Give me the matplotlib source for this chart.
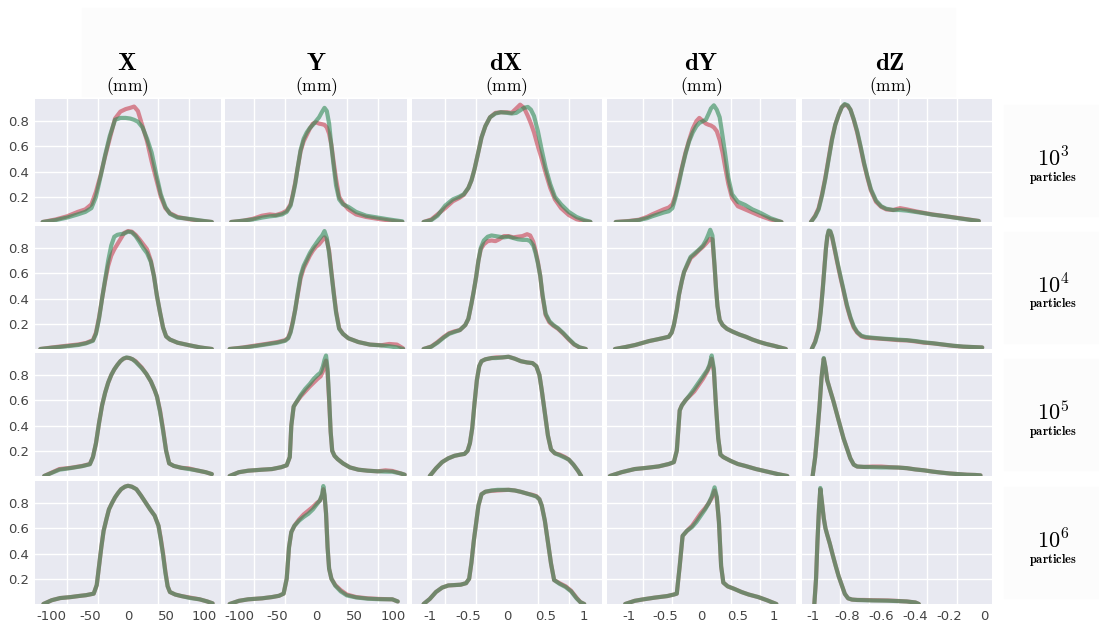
import numpy as np
import matplotlib.pyplot as plt
from matplotlib.patches import Rectangle

plt.rcParams['mathtext.fontset'] = 'cm'

# ---------------- density curves (red = reference, green = generated) ----------------
# row 1 : 10^3 particles
x_X_3 = [-112, -95, -80, -66, -56, -48, -42, -36, -30, -24, -17, -10, -3, 3, 8, 13, 19, 25, 31, 37, 43, 49, 55, 65, 80, 95, 110]
red_X_3 = [0.0, 0.02, 0.045, 0.08, 0.10, 0.14, 0.24, 0.37, 0.52, 0.66, 0.82, 0.875, 0.895, 0.905, 0.915, 0.88, 0.76, 0.64, 0.48, 0.34, 0.2, 0.11, 0.07, 0.04, 0.022, 0.01, 0.0]
green_X_3 = [0.0, 0.015, 0.035, 0.06, 0.08, 0.11, 0.20, 0.36, 0.53, 0.68, 0.81, 0.825, 0.825, 0.82, 0.81, 0.795, 0.75, 0.66, 0.55, 0.38, 0.22, 0.12, 0.065, 0.035, 0.025, 0.012, 0.0]

x_Y_3 = [-110, -95, -82, -70, -60, -52, -44, -38, -33, -30, -27, -24, -20, -16, -12, -8, -4, 0, 4, 8, 11, 14, 17, 20, 23, 26, 30, 35, 42, 52, 65, 80, 95, 112]
red_Y_3 = [0.0, 0.01, 0.025, 0.05, 0.06, 0.055, 0.07, 0.09, 0.14, 0.22, 0.31, 0.42, 0.56, 0.64, 0.69, 0.74, 0.78, 0.79, 0.78, 0.775, 0.77, 0.75, 0.70, 0.61, 0.47, 0.34, 0.2, 0.15, 0.1, 0.06, 0.04, 0.025, 0.012, 0.0]
green_Y_3 = [0.0, 0.01, 0.02, 0.035, 0.045, 0.05, 0.06, 0.08, 0.13, 0.21, 0.30, 0.42, 0.57, 0.66, 0.71, 0.745, 0.77, 0.80, 0.83, 0.875, 0.905, 0.88, 0.78, 0.60, 0.44, 0.29, 0.18, 0.14, 0.12, 0.08, 0.05, 0.035, 0.02, 0.005]

x_dX_3 = [-1.08, -0.98, -0.9, -0.8, -0.7, -0.62, -0.56, -0.5, -0.46, -0.42, -0.38, -0.33, -0.28, -0.22, -0.15, -0.08, 0.0, 0.06, 0.12, 0.17, 0.22, 0.27, 0.31, 0.35, 0.4, 0.45, 0.5, 0.56, 0.62, 0.7, 0.8, 0.9, 1.0, 1.08]
red_dX_3 = [0.0, 0.02, 0.06, 0.11, 0.165, 0.19, 0.215, 0.27, 0.33, 0.42, 0.53, 0.67, 0.76, 0.83, 0.865, 0.87, 0.87, 0.865, 0.9, 0.93, 0.905, 0.84, 0.78, 0.71, 0.60, 0.50, 0.39, 0.27, 0.18, 0.11, 0.055, 0.022, 0.008, 0.0]
green_dX_3 = [0.0, 0.015, 0.05, 0.13, 0.18, 0.2, 0.22, 0.27, 0.33, 0.42, 0.53, 0.67, 0.76, 0.83, 0.86, 0.87, 0.865, 0.86, 0.865, 0.885, 0.905, 0.912, 0.89, 0.84, 0.72, 0.57, 0.43, 0.3, 0.2, 0.14, 0.08, 0.04, 0.015, 0.002]

x_dY_3 = [-1.18, -1.0, -0.86, -0.75, -0.68, -0.6, -0.52, -0.45, -0.4, -0.36, -0.31, -0.27, -0.22, -0.17, -0.12, -0.07, -0.03, 0.02, 0.06, 0.1, 0.13, 0.17, 0.21, 0.25, 0.29, 0.33, 0.37, 0.42, 0.5, 0.6, 0.7, 0.8, 0.95, 1.1]
red_dY_3 = [0.0, 0.008, 0.018, 0.04, 0.06, 0.08, 0.1, 0.115, 0.14, 0.21, 0.33, 0.43, 0.55, 0.65, 0.74, 0.80, 0.825, 0.80, 0.78, 0.77, 0.765, 0.75, 0.72, 0.65, 0.55, 0.42, 0.30, 0.19, 0.125, 0.10, 0.075, 0.05, 0.02, 0.0]
green_dY_3 = [0.0, 0.006, 0.015, 0.03, 0.045, 0.06, 0.075, 0.085, 0.11, 0.19, 0.31, 0.42, 0.54, 0.64, 0.71, 0.76, 0.785, 0.80, 0.81, 0.86, 0.90, 0.925, 0.89, 0.83, 0.68, 0.52, 0.35, 0.22, 0.16, 0.135, 0.10, 0.075, 0.03, 0.0]

x_dZ_3 = [-1.01, -0.985, -0.965, -0.945, -0.926, -0.906, -0.887, -0.868, -0.848, -0.83, -0.813, -0.795, -0.779, -0.76, -0.74, -0.72, -0.7, -0.68, -0.66, -0.63, -0.6, -0.57, -0.53, -0.49, -0.45, -0.4, -0.35, -0.3, -0.22, -0.15, -0.08, -0.03]
red_dZ_3 = [0.0, 0.05, 0.11, 0.22, 0.35, 0.51, 0.66, 0.77, 0.85, 0.91, 0.93, 0.92, 0.89, 0.81, 0.71, 0.59, 0.46, 0.35, 0.25, 0.16, 0.12, 0.1, 0.095, 0.11, 0.1, 0.085, 0.072, 0.06, 0.045, 0.032, 0.018, 0.008]
green_dZ_3 = [0.0, 0.045, 0.10, 0.21, 0.34, 0.50, 0.65, 0.77, 0.85, 0.91, 0.935, 0.925, 0.89, 0.815, 0.72, 0.60, 0.47, 0.36, 0.26, 0.17, 0.125, 0.105, 0.095, 0.095, 0.09, 0.08, 0.07, 0.058, 0.045, 0.03, 0.017, 0.008]

# row 2 : 10^4 particles
x_X_4 = [-115, -100, -80, -65, -55, -46, -42, -38, -34, -30, -26, -22, -18, -14, -10, -5, 0, 5, 10, 15, 20, 25, 30, 34, 38, 42, 46, 50, 55, 65, 80, 95, 110]
red_X_4 = [0.0, 0.012, 0.026, 0.036, 0.048, 0.07, 0.13, 0.25, 0.40, 0.54, 0.66, 0.74, 0.79, 0.83, 0.87, 0.92, 0.935, 0.93, 0.905, 0.87, 0.83, 0.79, 0.70, 0.58, 0.42, 0.29, 0.17, 0.10, 0.075, 0.05, 0.03, 0.012, 0.0]
green_X_4 = [0.0, 0.01, 0.022, 0.032, 0.045, 0.065, 0.12, 0.24, 0.40, 0.55, 0.70, 0.82, 0.89, 0.905, 0.91, 0.915, 0.93, 0.925, 0.895, 0.85, 0.80, 0.76, 0.69, 0.58, 0.42, 0.29, 0.17, 0.10, 0.075, 0.05, 0.03, 0.012, 0.0]

x_Y_4 = [-112, -95, -80, -65, -50, -40, -36, -33, -30, -27, -24, -20, -16, -12, -8, -4, 0, 4, 8, 11, 14, 17, 20, 23, 26, 30, 35, 42, 55, 70, 85, 95, 105, 113]
red_Y_4 = [0.0, 0.012, 0.026, 0.04, 0.055, 0.07, 0.09, 0.14, 0.22, 0.31, 0.42, 0.56, 0.64, 0.69, 0.74, 0.78, 0.81, 0.83, 0.86, 0.885, 0.86, 0.78, 0.61, 0.45, 0.30, 0.165, 0.12, 0.085, 0.055, 0.035, 0.03, 0.04, 0.035, 0.005]
green_Y_4 = [0.0, 0.01, 0.022, 0.036, 0.05, 0.065, 0.085, 0.13, 0.21, 0.31, 0.43, 0.58, 0.66, 0.71, 0.76, 0.80, 0.835, 0.87, 0.90, 0.935, 0.88, 0.76, 0.60, 0.44, 0.29, 0.16, 0.12, 0.085, 0.055, 0.035, 0.028, 0.022, 0.012, 0.0]

x_dX_4 = [-1.08, -0.98, -0.9, -0.82, -0.75, -0.68, -0.61, -0.54, -0.5, -0.46, -0.43, -0.4, -0.37, -0.34, -0.3, -0.25, -0.2, -0.15, -0.1, -0.04, 0.02, 0.08, 0.14, 0.2, 0.26, 0.3, 0.34, 0.37, 0.4, 0.43, 0.46, 0.5, 0.55, 0.6, 0.66, 0.73, 0.8, 0.87, 0.94, 1.02]
red_dX_4 = [0.0, 0.02, 0.055, 0.095, 0.125, 0.14, 0.15, 0.19, 0.24, 0.36, 0.46, 0.57, 0.70, 0.79, 0.83, 0.855, 0.86, 0.855, 0.87, 0.895, 0.895, 0.885, 0.89, 0.895, 0.91, 0.9, 0.85, 0.78, 0.69, 0.58, 0.42, 0.27, 0.21, 0.185, 0.16, 0.12, 0.075, 0.035, 0.012, 0.0]
green_dX_4 = [0.0, 0.018, 0.05, 0.09, 0.12, 0.135, 0.15, 0.19, 0.24, 0.36, 0.46, 0.57, 0.70, 0.80, 0.86, 0.89, 0.9, 0.895, 0.89, 0.885, 0.89, 0.88, 0.87, 0.865, 0.865, 0.855, 0.82, 0.76, 0.68, 0.58, 0.43, 0.28, 0.22, 0.19, 0.165, 0.125, 0.08, 0.038, 0.013, 0.0]

x_dY_4 = [-1.19, -1.05, -0.91, -0.8, -0.72, -0.62, -0.54, -0.45, -0.41, -0.38, -0.34, -0.31, -0.27, -0.24, -0.19, -0.15, -0.09, -0.03, 0.02, 0.06, 0.09, 0.12, 0.15, 0.18, 0.2, 0.22, 0.25, 0.29, 0.35, 0.43, 0.52, 0.61, 0.7, 0.8, 0.89, 1.0, 1.16]
red_dY_4 = [0.0, 0.015, 0.032, 0.05, 0.063, 0.075, 0.085, 0.097, 0.13, 0.19, 0.31, 0.43, 0.54, 0.61, 0.67, 0.72, 0.75, 0.785, 0.81, 0.835, 0.855, 0.875, 0.87, 0.65, 0.48, 0.34, 0.23, 0.19, 0.16, 0.137, 0.115, 0.097, 0.075, 0.055, 0.04, 0.025, 0.0]
green_dY_4 = [0.0, 0.015, 0.032, 0.05, 0.063, 0.075, 0.085, 0.097, 0.13, 0.19, 0.31, 0.43, 0.54, 0.61, 0.68, 0.73, 0.76, 0.79, 0.82, 0.86, 0.90, 0.945, 0.90, 0.66, 0.48, 0.34, 0.23, 0.19, 0.16, 0.137, 0.115, 0.097, 0.075, 0.055, 0.04, 0.025, 0.0]

x_dZ_4 = [-1.005, -0.985, -0.965, -0.953, -0.941, -0.93, -0.922, -0.914, -0.906, -0.897, -0.887, -0.872, -0.857, -0.838, -0.818, -0.8, -0.779, -0.76, -0.74, -0.715, -0.69, -0.64, -0.59, -0.54, -0.5, -0.45, -0.4, -0.35, -0.3, -0.24, -0.18, -0.12, -0.06, -0.01]
red_dZ_4 = [0.0, 0.06, 0.16, 0.3, 0.48, 0.67, 0.80, 0.89, 0.935, 0.93, 0.89, 0.79, 0.69, 0.57, 0.45, 0.34, 0.24, 0.17, 0.13, 0.1, 0.09, 0.085, 0.08, 0.075, 0.07, 0.068, 0.06, 0.05, 0.045, 0.035, 0.025, 0.018, 0.015, 0.012]
green_dZ_4 = [0.0, 0.055, 0.15, 0.29, 0.47, 0.66, 0.80, 0.895, 0.94, 0.935, 0.895, 0.80, 0.70, 0.58, 0.46, 0.35, 0.25, 0.18, 0.135, 0.105, 0.095, 0.088, 0.082, 0.078, 0.074, 0.07, 0.063, 0.053, 0.046, 0.036, 0.026, 0.019, 0.015, 0.012]

# row 3 : 10^5 particles
x_X_5 = [-110, -90, -75, -60, -50, -46, -42, -38, -34, -30, -26, -22, -18, -14, -10, -6, -2, 2, 6, 10, 14, 18, 24, 30, 35, 38, 42, 46, 50, 54, 60, 70, 80, 90, 102, 110]
red_X_5 = [0.0, 0.055, 0.065, 0.08, 0.095, 0.15, 0.26, 0.42, 0.56, 0.66, 0.74, 0.80, 0.845, 0.88, 0.91, 0.93, 0.937, 0.935, 0.925, 0.91, 0.885, 0.86, 0.81, 0.75, 0.68, 0.63, 0.52, 0.37, 0.2, 0.1, 0.08, 0.065, 0.06, 0.045, 0.03, 0.015]
green_X_5 = [0.0, 0.05, 0.063, 0.078, 0.093, 0.15, 0.26, 0.42, 0.56, 0.66, 0.74, 0.80, 0.845, 0.88, 0.91, 0.93, 0.94, 0.935, 0.925, 0.905, 0.88, 0.855, 0.81, 0.75, 0.68, 0.63, 0.51, 0.36, 0.2, 0.1, 0.08, 0.065, 0.055, 0.045, 0.03, 0.015]

x_Y_5 = [-112, -100, -88, -70, -57, -45, -38, -34, -32, -29, -26, -20, -14, -8, -3, 2, 6, 9, 11, 13, 15, 17, 19, 21, 24, 28, 35, 44, 55, 67, 80, 90, 99, 110, 115]
red_Y_5 = [0.0, 0.03, 0.042, 0.05, 0.055, 0.07, 0.085, 0.15, 0.40, 0.55, 0.58, 0.63, 0.67, 0.71, 0.74, 0.77, 0.79, 0.83, 0.88, 0.915, 0.82, 0.60, 0.35, 0.2, 0.16, 0.134, 0.1, 0.068, 0.05, 0.042, 0.037, 0.045, 0.04, 0.02, 0.01]
green_Y_5 = [0.0, 0.03, 0.042, 0.05, 0.055, 0.07, 0.085, 0.15, 0.40, 0.55, 0.58, 0.64, 0.69, 0.73, 0.77, 0.80, 0.82, 0.87, 0.92, 0.955, 0.85, 0.62, 0.35, 0.2, 0.16, 0.134, 0.1, 0.068, 0.05, 0.042, 0.037, 0.035, 0.034, 0.02, 0.01]

x_dX_5 = [-1.0, -0.92, -0.84, -0.76, -0.68, -0.6, -0.55, -0.51, -0.48, -0.45, -0.42, -0.39, -0.36, -0.33, -0.28, -0.2, -0.14, -0.06, 0.02, 0.1, 0.18, 0.26, 0.33, 0.38, 0.42, 0.45, 0.49, 0.53, 0.57, 0.62, 0.68, 0.75, 0.8, 0.86, 0.92, 0.96]
red_dX_5 = [0.0, 0.06, 0.11, 0.14, 0.16, 0.17, 0.175, 0.2, 0.26, 0.38, 0.58, 0.76, 0.87, 0.91, 0.925, 0.935, 0.94, 0.94, 0.945, 0.93, 0.91, 0.9, 0.895, 0.87, 0.80, 0.68, 0.50, 0.32, 0.21, 0.18, 0.17, 0.15, 0.13, 0.09, 0.04, 0.0]
green_dX_5 = [0.0, 0.06, 0.11, 0.14, 0.16, 0.17, 0.175, 0.2, 0.26, 0.38, 0.58, 0.76, 0.87, 0.91, 0.925, 0.935, 0.935, 0.94, 0.945, 0.93, 0.91, 0.9, 0.895, 0.87, 0.80, 0.68, 0.50, 0.32, 0.21, 0.18, 0.165, 0.145, 0.13, 0.09, 0.04, 0.0]

x_dY_5 = [-1.26, -1.1, -0.92, -0.75, -0.59, -0.45, -0.38, -0.34, -0.3, -0.27, -0.22, -0.17, -0.1, -0.04, 0.02, 0.08, 0.11, 0.14, 0.17, 0.2, 0.23, 0.26, 0.3, 0.4, 0.5, 0.6, 0.75, 0.9, 1.05, 1.18]
red_dY_5 = [0.0, 0.03, 0.055, 0.065, 0.076, 0.095, 0.11, 0.2, 0.52, 0.56, 0.6, 0.63, 0.67, 0.72, 0.77, 0.83, 0.87, 0.93, 0.83, 0.55, 0.3, 0.17, 0.15, 0.12, 0.095, 0.08, 0.055, 0.035, 0.015, 0.0]
green_dY_5 = [0.0, 0.03, 0.055, 0.065, 0.076, 0.095, 0.11, 0.2, 0.52, 0.56, 0.6, 0.635, 0.69, 0.74, 0.79, 0.84, 0.88, 0.955, 0.85, 0.55, 0.3, 0.17, 0.15, 0.12, 0.095, 0.08, 0.055, 0.035, 0.015, 0.0]

x_dZ_5 = [-1.0, -0.985, -0.972, -0.96, -0.948, -0.935, -0.925, -0.915, -0.9, -0.88, -0.86, -0.84, -0.82, -0.8, -0.78, -0.76, -0.74, -0.7, -0.65, -0.6, -0.55, -0.5, -0.45, -0.4, -0.35, -0.3, -0.25, -0.2, -0.15, -0.1, -0.05, -0.02]
red_dZ_5 = [0.0, 0.15, 0.35, 0.55, 0.78, 0.93, 0.86, 0.76, 0.69, 0.6, 0.5, 0.4, 0.3, 0.22, 0.14, 0.09, 0.075, 0.072, 0.075, 0.075, 0.07, 0.067, 0.062, 0.052, 0.045, 0.035, 0.027, 0.02, 0.015, 0.01, 0.008, 0.005]
green_dZ_5 = [0.0, 0.15, 0.35, 0.55, 0.78, 0.935, 0.86, 0.76, 0.69, 0.6, 0.5, 0.4, 0.3, 0.22, 0.14, 0.09, 0.075, 0.072, 0.07, 0.068, 0.068, 0.067, 0.062, 0.052, 0.045, 0.035, 0.027, 0.02, 0.015, 0.01, 0.008, 0.005]

# row 4 : 10^6 particles
x_X_6 = [-111, -100, -89, -75, -65, -55, -45, -41, -38, -35, -32, -28, -25, -21, -17, -13, -9, -4, 0, 5, 11, 17, 23, 29, 35, 40, 43, 46, 49, 52, 55, 62, 70, 82, 94, 104, 111]
red_X_6 = [0.0, 0.03, 0.047, 0.055, 0.063, 0.07, 0.082, 0.15, 0.30, 0.45, 0.58, 0.68, 0.75, 0.80, 0.845, 0.88, 0.91, 0.93, 0.937, 0.93, 0.91, 0.86, 0.805, 0.75, 0.70, 0.62, 0.52, 0.40, 0.26, 0.14, 0.095, 0.075, 0.063, 0.05, 0.037, 0.02, 0.005]
green_X_6 = [0.0, 0.03, 0.047, 0.055, 0.063, 0.07, 0.082, 0.15, 0.30, 0.45, 0.58, 0.68, 0.75, 0.80, 0.845, 0.88, 0.91, 0.93, 0.937, 0.93, 0.91, 0.86, 0.805, 0.75, 0.70, 0.62, 0.51, 0.39, 0.25, 0.14, 0.095, 0.075, 0.063, 0.047, 0.037, 0.02, 0.005]

x_Y_6 = [-112, -100, -88, -70, -57, -48, -42, -38, -35, -32, -28, -22, -16, -10, -4, 1, 5, 8, 9.5, 11, 13, 15, 17, 20, 25, 32, 40, 52, 67, 82, 99, 106]
red_Y_6 = [0.0, 0.025, 0.037, 0.045, 0.055, 0.065, 0.082, 0.2, 0.45, 0.57, 0.62, 0.67, 0.71, 0.74, 0.77, 0.80, 0.82, 0.86, 0.91, 0.86, 0.72, 0.45, 0.28, 0.2, 0.15, 0.11, 0.075, 0.055, 0.045, 0.04, 0.037, 0.02]
green_Y_6 = [0.0, 0.025, 0.037, 0.045, 0.055, 0.065, 0.082, 0.2, 0.45, 0.57, 0.62, 0.66, 0.69, 0.715, 0.75, 0.79, 0.82, 0.87, 0.935, 0.87, 0.72, 0.45, 0.28, 0.2, 0.145, 0.1, 0.068, 0.052, 0.042, 0.038, 0.037, 0.02]

x_dX_6 = [-1.08, -1.0, -0.92, -0.84, -0.76, -0.68, -0.6, -0.53, -0.49, -0.46, -0.43, -0.4, -0.37, -0.33, -0.28, -0.2, -0.12, -0.04, 0.02, 0.1, 0.18, 0.26, 0.33, 0.38, 0.42, 0.45, 0.49, 0.53, 0.57, 0.61, 0.68, 0.76, 0.83, 0.9, 0.95, 1.0]
red_dX_6 = [0.0, 0.04, 0.095, 0.13, 0.147, 0.15, 0.153, 0.165, 0.2, 0.33, 0.5, 0.64, 0.78, 0.87, 0.89, 0.897, 0.9, 0.903, 0.905, 0.9, 0.889, 0.875, 0.865, 0.855, 0.83, 0.78, 0.66, 0.49, 0.32, 0.19, 0.165, 0.14, 0.105, 0.05, 0.015, 0.0]
green_dX_6 = [0.0, 0.04, 0.095, 0.13, 0.147, 0.15, 0.153, 0.165, 0.2, 0.33, 0.5, 0.64, 0.78, 0.87, 0.89, 0.9, 0.905, 0.905, 0.905, 0.9, 0.889, 0.875, 0.862, 0.852, 0.83, 0.78, 0.66, 0.49, 0.32, 0.19, 0.16, 0.134, 0.1, 0.045, 0.015, 0.0]

x_dY_6 = [-1.05, -0.92, -0.8, -0.65, -0.47, -0.38, -0.34, -0.3, -0.26, -0.2, -0.13, -0.07, -0.01, 0.05, 0.1, 0.14, 0.18, 0.21, 0.24, 0.27, 0.3, 0.36, 0.45, 0.55, 0.65, 0.78, 0.9, 1.03]
red_dY_6 = [0.0, 0.025, 0.037, 0.05, 0.063, 0.075, 0.082, 0.3, 0.54, 0.58, 0.62, 0.67, 0.72, 0.76, 0.80, 0.84, 0.90, 0.84, 0.65, 0.3, 0.17, 0.14, 0.12, 0.095, 0.075, 0.055, 0.03, 0.0]
green_dY_6 = [0.0, 0.025, 0.037, 0.05, 0.063, 0.075, 0.082, 0.3, 0.54, 0.58, 0.61, 0.65, 0.70, 0.75, 0.80, 0.85, 0.925, 0.85, 0.65, 0.3, 0.17, 0.14, 0.12, 0.095, 0.075, 0.055, 0.03, 0.0]

x_dZ_6 = [-0.99, -0.98, -0.972, -0.963, -0.955, -0.945, -0.935, -0.925, -0.915, -0.9, -0.883, -0.865, -0.848, -0.83, -0.812, -0.793, -0.77, -0.74, -0.7, -0.65, -0.6, -0.56, -0.5, -0.45, -0.4, -0.38]
red_dZ_6 = [0.0, 0.2, 0.49, 0.75, 0.91, 0.8, 0.68, 0.6, 0.55, 0.48, 0.39, 0.3, 0.22, 0.15, 0.08, 0.045, 0.035, 0.032, 0.032, 0.03, 0.029, 0.028, 0.024, 0.02, 0.012, 0.0]
green_dZ_6 = [0.0, 0.2, 0.49, 0.75, 0.92, 0.8, 0.68, 0.6, 0.55, 0.48, 0.39, 0.3, 0.22, 0.15, 0.08, 0.045, 0.035, 0.032, 0.03, 0.028, 0.027, 0.026, 0.023, 0.02, 0.012, 0.0]

# ---------------- labels ----------------
col_names = ['X', 'Y', 'dX', 'dY', 'dZ']
row_powers = ['3', '4', '5', '6']

xlims = [(-122, 122), (-118, 118), (-1.23, 1.23), (-1.3, 1.3), (-1.062, 0.047)]
xtick_vals = [[-100, -50, 0, 50, 100], [-100, -50, 0, 50, 100],
              [-1, -0.5, 0, 0.5, 1], [-1, -0.5, 0, 0.5, 1],
              [-1, -0.8, -0.6, -0.4, -0.2, 0]]
xtick_text = [['-100', '-50', '0', '50', '100'], ['-100', '-50', '0', '50', '100'],
              ['-1', '-0.5', '0', '0.5', '1'], ['-1', '-0.5', '0', '0.5', '1'],
              ['-1', '-0.8', '-0.6', '-0.4', '-0.2', '0']]
xgrid_vals = [[-80, -40, 0, 40, 80], [-80, -40, 0, 40, 80],
              [-0.8, -0.4, 0, 0.4, 0.8], [-0.8, -0.4, 0, 0.4, 0.8],
              [-0.84, -0.67, -0.5, -0.33, -0.16]]
ytick_vals = [0.2, 0.4, 0.6, 0.8]

curves = [
    [(x_X_3, red_X_3, green_X_3), (x_Y_3, red_Y_3, green_Y_3), (x_dX_3, red_dX_3, green_dX_3),
     (x_dY_3, red_dY_3, green_dY_3), (x_dZ_3, red_dZ_3, green_dZ_3)],
    [(x_X_4, red_X_4, green_X_4), (x_Y_4, red_Y_4, green_Y_4), (x_dX_4, red_dX_4, green_dX_4),
     (x_dY_4, red_dY_4, green_dY_4), (x_dZ_4, red_dZ_4, green_dZ_4)],
    [(x_X_5, red_X_5, green_X_5), (x_Y_5, red_Y_5, green_Y_5), (x_dX_5, red_dX_5, green_dX_5),
     (x_dY_5, red_dY_5, green_dY_5), (x_dZ_5, red_dZ_5, green_dZ_5)],
    [(x_X_6, red_X_6, green_X_6), (x_Y_6, red_Y_6, green_Y_6), (x_dX_6, red_dX_6, green_dX_6),
     (x_dY_6, red_dY_6, green_dY_6), (x_dZ_6, red_dZ_6, green_dZ_6)],
]

# ---------------- layout (pixels) ----------------
W, H = 1099, 628
col_px = [(35, 221), (225, 407), (412, 602), (607, 796), (802, 992)]
row_px = [(99, 222), (226, 349), (353, 476), (481, 604)]

fig = plt.figure(figsize=(W / 100, H / 100), dpi=100)
fig.patch.set_facecolor('white')

# faint panels behind the titles
fig.patches.append(Rectangle((82 / W, 1 - 96 / H), (955 - 82) / W, 88 / H,
                             transform=fig.transFigure, color='#fcfcfc', zorder=0))
for (top, bot) in row_px:
    fig.patches.append(Rectangle((1004 / W, 1 - (bot - 6) / H), 95 / W, (bot - top - 12) / H,
                                 transform=fig.transFigure, color='#fcfcfc', zorder=0))

for i, (top, bot) in enumerate(row_px):
    for j, (left, right) in enumerate(col_px):
        ax = fig.add_axes([left / W, 1 - bot / H, (right - left) / W, (bot - top) / H])
        ax.set_facecolor('#e8e9f1')
        for s in ax.spines.values():
            s.set_visible(False)
        x, r, g = curves[i][j]
        ax.plot(x, r, color='#c8404f', lw=3.0, alpha=0.6, solid_capstyle='round')
        ax.plot(x, g, color='#2f8a55', lw=3.0, alpha=0.6, solid_capstyle='round')
        ax.set_xlim(*xlims[j])
        ax.set_ylim(0, 0.975)

        ax.set_xticks(xtick_vals[j])
        ax.set_xticks(xgrid_vals[j], minor=True)
        ax.set_yticks(ytick_vals)
        ax.grid(False)
        ax.grid(True, which='minor', axis='x', color='white', lw=1.0)
        ax.grid(True, which='major', axis='y', color='white', lw=1.0)
        ax.set_axisbelow(True)
        ax.tick_params(which='both', length=0, labelsize=9.5, labelcolor='#444444', pad=4)

        if i == len(row_px) - 1:
            ax.set_xticklabels(xtick_text[j])
        else:
            ax.set_xticklabels([])
        if j == 0:
            ax.set_yticklabels(['0.2', '0.4', '0.6', '0.8'])
        else:
            ax.set_yticklabels([])

# column titles
col_cx = [127, 316, 506, 701, 890]
for name, cx in zip(col_names, col_cx):
    fig.text(cx / W, 1 - 70 / H, r'$\mathbf{%s}$' % name, fontsize=18, ha='center', va='baseline')
    fig.text(cx / W, 1 - 91 / H, r'$\mathrm{(mm)}$', fontsize=12.5, ha='center', va='baseline')

# row titles
for p, (top, bot) in zip(row_powers, row_px):
    cy = (top + bot) / 2
    fig.text(1053 / W, 1 - (cy - 2) / H, r'$\mathbf{10^{%s}}$' % p, fontsize=16, ha='center', va='center')
    fig.text(1053 / W, 1 - (cy + 17) / H, r'$\mathbf{particles}$', fontsize=9, ha='center', va='center')

fig.savefig('out.png', dpi=100)
